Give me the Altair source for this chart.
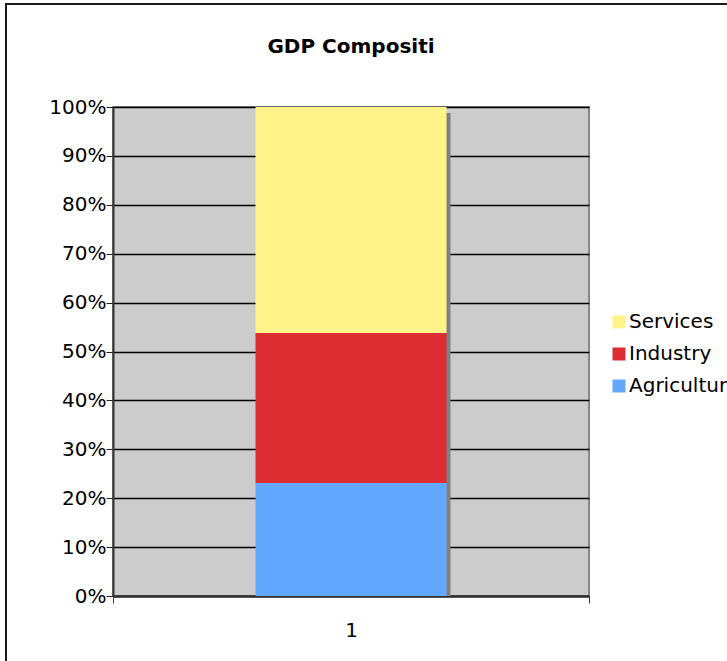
import altair as alt
import pandas as pd

# GDP composition for a single period, as shares of the total
categories = ["1", "1", "1"]
sectors = ["Agriculture", "Industry", "Services"]
shares = [0.231, 0.307, 0.462]
stack_rank = [0, 1, 2]  # Agriculture at the bottom, Services on top

legend_order = ["Services", "Industry", "Agriculture"]
legend_colors = ["#FFF38A", "#DD2C32", "#63A8FF"]
y_ticks = [0, 0.1, 0.2, 0.3, 0.4, 0.5, 0.6, 0.7, 0.8, 0.9, 1.0]

df = pd.DataFrame({
    "period": categories,
    "sector": sectors,
    "share": shares,
    "rank": stack_rank,
})

FONT = "DejaVu Sans"

x_enc = alt.X(
    "period:N",
    title=None,
    scale=alt.Scale(paddingInner=0, paddingOuter=0),
    axis=alt.Axis(
        labelAngle=0,
        labelFontSize=20,
        labelFont=FONT,
        labelColor="#000000",
        labelPadding=17,
        tickBand="extent",
        tickSize=7,
        tickColor="#333333",
        tickWidth=1,
        domainColor="#333333",
        domainWidth=2.5,
        grid=False,
    ),
)

y_axis = alt.Axis(
    values=y_ticks,
    format=".0%",
    labelFontSize=20,
    labelFont=FONT,
    labelColor="#000000",
    labelPadding=0,
    tickSize=7,
    tickColor="#222222",
    tickWidth=1,
    domainColor="#333333",
    domainWidth=2,
    grid=True,
    gridColor="#000000",
    gridWidth=1.3,
    gridOpacity=1,
)

# Outer frame of the chart area
frame = alt.Chart(alt.Data(values=[{}])).mark_rect(
    fill=None, stroke="#1a1a1a", strokeWidth=2, clip=False
).encode(
    x=alt.value(-107), x2=alt.value(700),
    y=alt.value(-103), y2=alt.value(640),
)

# Drop shadow behind the stacked column
shadow = alt.Chart(df).mark_bar(
    size=191, xOffset=4, yOffset=6, color="#808080", clip=True
).encode(
    x=x_enc,
    y=alt.Y("sum(share):Q", title=None, scale=alt.Scale(domain=[0, 1]), axis=y_axis),
)

bars = alt.Chart(df).mark_bar(size=191).encode(
    x=x_enc,
    y=alt.Y("share:Q", stack="zero", title=None,
            scale=alt.Scale(domain=[0, 1]), axis=y_axis),
    color=alt.Color(
        "sector:N",
        scale=alt.Scale(domain=legend_order, range=legend_colors),
        legend=alt.Legend(
            title=None,
            orient="none",
            legendX=496,
            legendY=205,
            symbolType="square",
            symbolSize=169,
            symbolStrokeWidth=0,
            labelFontSize=20,
            labelFont=FONT,
            labelColor="#000000",
            labelOffset=0,
            rowPadding=12,
            padding=0,
        ),
    ),
    order=alt.Order("rank:Q", sort="ascending"),
)

chart = alt.layer(frame, shadow, bars).properties(
    width=476,
    height=489,
    title=alt.TitleParams(
        "GDP Compositi",
        fontSize=20,
        font=FONT,
        fontWeight="bold",
        color="#000000",
        anchor="middle",
        frame="group",
        offset=0,
        dy=54,
    ),
    padding={"left": 113, "top": 107, "right": 138, "bottom": 65},
    autosize=alt.AutoSizeParams(type="none"),
    background="#ffffff",
).configure_view(
    fill="#CCCCCC",
    stroke="#888888",
    strokeWidth=2,
)

chart.save("out.html", embed_options={"renderer": "svg", "actions": False})
